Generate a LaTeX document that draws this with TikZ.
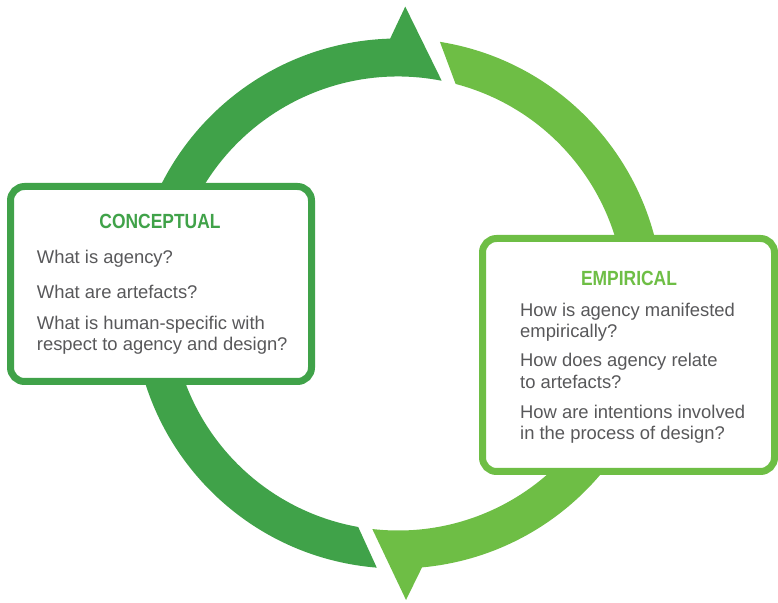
\documentclass[tikz,border=0pt]{standalone}
\usepackage{fontspec}
\setmainfont{Liberation Sans}
\usetikzlibrary{calc}
\definecolor{dgreen}{RGB}{64,162,73}
\definecolor{lgreen}{RGB}{110,190,69}
\definecolor{txtgray}{RGB}{88,88,90}
\begin{document}
\begin{tikzpicture}[x=1pt,y=1pt,
  boxstyle/.style={draw, fill=white, line width=7pt, rounded corners=14pt, inner sep=0pt},
  qtext/.style={anchor=base west, inner sep=0pt, text=txtgray, font=\fontsize{18.4}{22}\selectfont},
  ttext/.style={anchor=base, inner sep=0pt, font=\fontsize{20.5}{24}\selectfont\bfseries}]
\useasboundingbox (0,0) rectangle (778,602);
\coordinate (c) at (398,298.5);
% dark green arc (left half, arrow at top)
\fill[dgreen] ($(c)+(265.4:265)$) arc[start angle=265.4, end angle=91.7, radius=265]
  -- ($(c)+(88.6:297)$) -- ($(c)+(78.9:227)$)
  arc[start angle=78.9, end angle=259.9, radius=227] -- cycle;
% light green arc (right half, arrow at bottom)
\fill[lgreen] ($(c)+(80.9:265)$) arc[start angle=80.9, end angle=-84.8, radius=265]
  -- ($(c)+(-88.45:296.6)$) -- ($(c)+(-96.5:227)$)
  arc[start angle=-96.5, end angle=75.3, radius=227] -- cycle;
% boxes
\node[boxstyle, draw=dgreen, minimum width=301pt, minimum height=195pt] (cbox) at (161,318) {};
\node[boxstyle, draw=lgreen, minimum width=292pt, minimum height=233pt] (ebox) at (628.5,247) {};
% conceptual
\node[ttext, text=dgreen] (ctitle) at (160,373.7) {\scalebox{0.85}[1]{CONCEPTUAL}};
\node[qtext] (c1) at (36.7,338.7) {What is agency?};
\node[qtext] (c2) at (36.7,303.7) {What are artefacts?};
\node[qtext] (c3a) at (36.7,272.7) {What is human-specific with};
\node[qtext] (c3b) at (36.7,251) {respect to agency and design?};
% empirical
\node[ttext, text=lgreen] (etitle) at (629,316) {\scalebox{0.85}[1]{EMPIRICAL}};
\node[qtext] (e1a) at (520,285.3) {How is agency manifested};
\node[qtext] (e1b) at (520,264.7) {empirically?};
\node[qtext] (e2a) at (520,235.3) {How does agency relate};
\node[qtext] (e2b) at (520,213.7) {to artefacts?};
\node[qtext] (e3a) at (520,183.7) {How are intentions involved};
\node[qtext] (e3b) at (520,162) {in the process of design?};
\end{tikzpicture}
\end{document}
